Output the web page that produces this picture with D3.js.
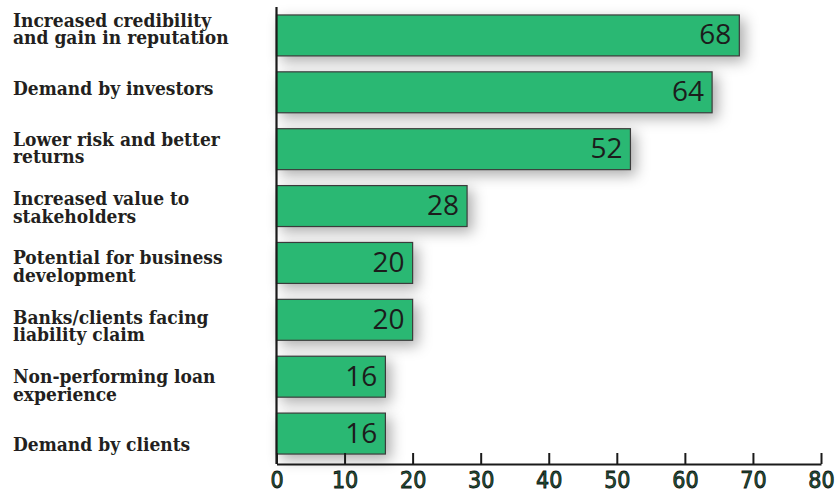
<!DOCTYPE html>
<html>
<head>
<meta charset="utf-8">
<script src="https://cdn.jsdelivr.net/npm/d3@7"></script>
<style>
  html, body { margin: 0; padding: 0; background: #ffffff; }
  svg { display: block; }
</style>
</head>
<body>
<svg id="chart" width="837" height="495"></svg>
<script>
// Reasons, top to bottom; each entry is the list of text lines for its label
const categories = [
  ["Increased credibility", "and gain in reputation"],
  ["Demand by investors"],
  ["Lower risk and better", "returns"],
  ["Increased value to", "stakeholders"],
  ["Potential for business", "development"],
  ["Banks/clients facing", "liability claim"],
  ["Non-performing loan", "experience"],
  ["Demand by clients"]
];
const values = [68, 64, 52, 28, 20, 20, 16, 16];
const tickValues = [0, 10, 20, 30, 40, 50, 60, 70, 80];

const svg = d3.select("#chart");
const ids = d3.range(categories.length);

// Soft grey shadow under each bar
const defs = svg.append("defs");
const shadow = defs.append("filter")
  .attr("id", "barShadow")
  .attr("x", "-20%").attr("y", "-60%")
  .attr("width", "160%").attr("height", "260%");
shadow.append("feDropShadow")
  .attr("dx", 5).attr("dy", 5)
  .attr("stdDeviation", 7)
  .attr("flood-color", "#000")
  .attr("flood-opacity", 0.32);

const x = d3.scaleLinear().domain([0, 80]).range([276.5, 821]);
const y = d3.scaleBand().domain(ids).range([7, 462])
  .paddingInner(0.28).paddingOuter(0.14);
// Label rows are spaced a little wider than the bars
const yLabel = d3.scaleBand().domain(ids).range([0, 475]);

// Bars
svg.append("g")
  .selectAll("rect")
  .data(values)
  .join("rect")
  .attr("x", x(0))
  .attr("y", (d, i) => y(i))
  .attr("width", d => x(d) - x(0))
  .attr("height", y.bandwidth())
  .attr("fill", "#2cb873")
  .attr("stroke", "#3b3b3b")
  .attr("stroke-width", 1.2)
  .attr("filter", "url(#barShadow)");

// Value labels inside the bar ends
svg.append("g")
  .selectAll("text")
  .data(values)
  .join("text")
  .attr("x", d => x(d) - 8)
  .attr("y", (d, i) => y(i) + y.bandwidth() / 2 + 9)
  .attr("text-anchor", "end")
  .attr("font-family", "'Open Sans', 'Noto Sans', sans-serif")
  .attr("font-size", 28)
  .attr("fill", "#1c1c1c")
  .text(d => d);

// Category labels: bold condensed serif, sized so the first line spans ~202px
const labelFont = "'DejaVu Serif Condensed', 'DejaVu Serif', serif";
const probe = svg.append("text")
  .attr("font-family", labelFont)
  .attr("font-weight", "bold")
  .attr("font-stretch", "condensed")
  .attr("font-size", 20)
  .text(categories[0][0]);
const probeW = probe.node().getComputedTextLength();
probe.remove();
const labelSize = Math.min(19, 20 * 202 / probeW);

const lineGap = 17.4;
const labels = svg.append("g")
  .selectAll("text")
  .data(categories)
  .join("text")
  .attr("font-family", labelFont)
  .attr("font-weight", "bold")
  .attr("font-stretch", "condensed")
  .attr("font-size", labelSize)
  .attr("fill", "#231f20");
labels.each(function(lines, i) {
  const c = yLabel(i) + yLabel.bandwidth() / 2;
  const first = lines.length === 1 ? c + 6 : c - 2.7;
  d3.select(this).selectAll("tspan")
    .data(lines)
    .join("tspan")
    .attr("x", 13)
    .attr("y", (d, k) => first + k * lineGap)
    .text(d => d);
});

// Value axis along the bottom
const axisY = 464;
const axis = svg.append("g")
  .attr("transform", `translate(0,${axisY})`)
  .call(d3.axisBottom(x).tickValues(tickValues).tickSizeInner(-11).tickSizeOuter(0).tickPadding(12));
axis.select(".domain").attr("stroke", "#1a1a1a").attr("stroke-width", 2.2);
axis.selectAll(".tick line").attr("stroke", "#1a1a1a").attr("stroke-width", 2);
axis.selectAll(".tick text")
  .attr("y", 24)
  .attr("dy", 0)
  .attr("font-family", "'DejaVu Sans Condensed', 'Liberation Sans Narrow', 'Open Sans', sans-serif")
  .attr("font-size", 23)
  .attr("fill", "#1f5a3a")
  .attr("stroke", "#111")
  .attr("stroke-width", 0.8);

// Category axis line on the left
svg.append("line")
  .attr("x1", x(0)).attr("x2", x(0))
  .attr("y1", 7).attr("y2", axisY)
  .attr("stroke", "#1a1a1a")
  .attr("stroke-width", 2.2);
</script>
</body>
</html>
